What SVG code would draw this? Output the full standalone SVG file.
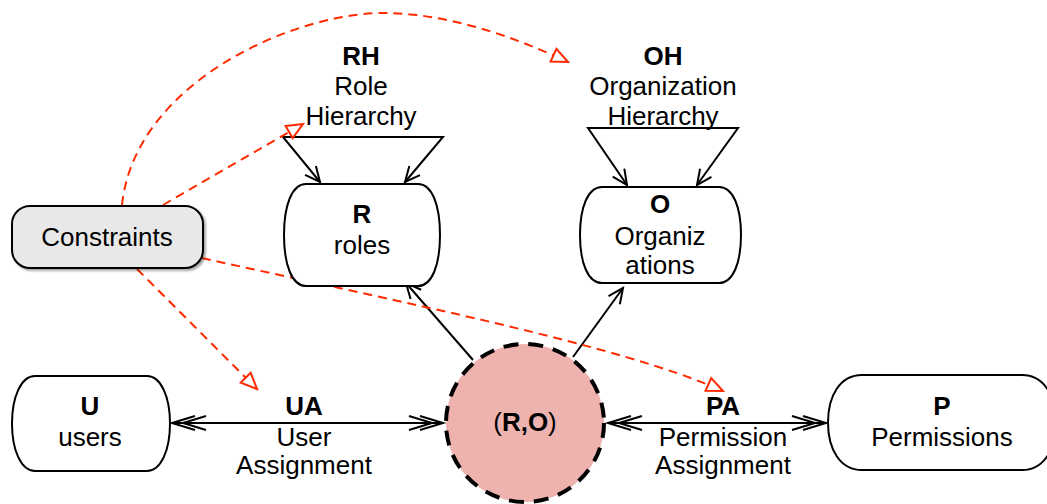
<svg xmlns="http://www.w3.org/2000/svg" width="1047" height="504" viewBox="0 0 1047 504">
  <defs>
    <style>
      text { font-family: "Liberation Sans", Arial, Helvetica, sans-serif; font-size: 26px; fill: #000; text-anchor: middle; }
      .b { font-weight: bold; }
      .node { fill: #fff; stroke: #000; stroke-width: 2; }
      .link { fill: none; stroke: #000; stroke-width: 2; }
      .constraint { fill: none; stroke: #ff2a00; stroke-width: 2; stroke-dasharray: 9 6; }
    </style>
    <!-- single open arrowhead -->
    <marker id="open" markerUnits="userSpaceOnUse" orient="auto-start-reverse" markerWidth="1" markerHeight="1" overflow="visible">
      <path d="M-15,-7 L0,0 L-15,7" fill="none" stroke="#000" stroke-width="2"/>
    </marker>
    <!-- double open arrowhead -->
    <marker id="dbl" markerUnits="userSpaceOnUse" orient="auto-start-reverse" markerWidth="1" markerHeight="1" overflow="visible">
      <path d="M-23,-7 L0,0 L-23,7 M-34,-7 L-11,0 L-34,7" fill="none" stroke="#000" stroke-width="2"/>
    </marker>
    <!-- hollow triangle for constraint links -->
    <marker id="tri" markerUnits="userSpaceOnUse" orient="auto" markerWidth="1" markerHeight="1" overflow="visible">
      <path d="M-16,-7 L0,0 L-16,7 Z" fill="#fff" stroke="#ff2a00" stroke-width="2"/>
    </marker>
    <filter id="shadow" x="-10%" y="-10%" width="130%" height="140%">
      <feDropShadow dx="2" dy="2" stdDeviation="1" flood-color="#000" flood-opacity="0.35"/>
    </filter>
  </defs>

  <!-- connectors -->
  <g id="connectors">
    <!-- role hierarchy self loop -->
    <path class="link" d="M320,182 L283,137 L443,137 L405,182" marker-start="url(#open)" marker-end="url(#open)"/>
    <!-- organization hierarchy self loop -->
    <path class="link" d="M627,185 L588,128 L738,128 L697,185" marker-start="url(#open)" marker-end="url(#open)"/>
    <!-- (R,O) to R and O -->
    <path class="link" d="M473,360 L406,283" marker-end="url(#open)"/>
    <path class="link" d="M573,357 L623,288" marker-end="url(#open)"/>
    <!-- UA and PA -->
    <path class="link" d="M172,423 L443,423" marker-start="url(#dbl)" marker-end="url(#dbl)"/>
    <path class="link" d="M608,423 L826,423" marker-start="url(#dbl)" marker-end="url(#dbl)"/>
    <!-- constraints -->
    <path class="constraint" d="M122,205 C135,80 300,10 390,13 C450,15 510,35 568,62" marker-end="url(#tri)"/>
    <path class="constraint" d="M163,205 L303,124" marker-end="url(#tri)"/>
    <path class="constraint" d="M137,269 L257,389" marker-end="url(#tri)"/>
    <path class="constraint" d="M202,258 C400,302 620,345 723,391" marker-end="url(#tri)"/>
  </g>

  <!-- edge labels -->
  <g id="label-RH">
    <text class="b" x="361" y="65">RH</text>
    <text x="361" y="95">Role</text>
    <text x="361" y="125">Hierarchy</text>
  </g>
  <g id="label-OH">
    <text class="b" x="663" y="65">OH</text>
    <text x="663" y="95">Organization</text>
    <text x="663" y="125">Hierarchy</text>
  </g>
  <g id="label-UA">
    <text class="b" x="304" y="415">UA</text>
    <text x="304" y="446">User</text>
    <text x="304" y="474">Assignment</text>
  </g>
  <g id="label-PA">
    <text class="b" x="723" y="415">PA</text>
    <text x="723" y="446">Permission</text>
    <text x="723" y="474">Assignment</text>
  </g>

  <!-- nodes -->
  <g id="constraints">
    <rect x="12" y="206" width="191" height="62" rx="18" fill="#e8e8e8" stroke="#000" stroke-width="2" filter="url(#shadow)"/>
    <text x="107" y="246">Constraints</text>
  </g>
  <g id="roles">
    <path class="node" d="M306,184 H418 C432,184 440,205 440,235 C440,265 432,286 418,286 H306 C292,286 284,265 284,235 C284,205 292,184 306,184 Z"/>
    <text class="b" x="362" y="223">R</text>
    <text x="362" y="254">roles</text>
  </g>
  <g id="organizations">
    <path class="node" d="M602,187 H719 C733,187 741,207 741,235 C741,263 733,283 719,283 H602 C588,283 580,263 580,235 C580,207 588,187 602,187 Z"/>
    <text class="b" x="660" y="213">O</text>
    <text x="660" y="245">Organiz</text>
    <text x="660" y="274">ations</text>
  </g>
  <g id="users">
    <path class="node" d="M35,376 H147 C161,376 170,397 170,423.5 C170,450 161,471 147,471 H35 C21,471 12,450 12,423.5 C12,397 21,376 35,376 Z"/>
    <text class="b" x="90" y="415">U</text>
    <text x="90" y="446">users</text>
  </g>
  <g id="permissions">
    <path class="node" d="M862,375 H1022 C1044,375 1056,396 1056,422.5 C1056,449 1044,470 1022,470 H862 C840,470 828,449 828,422.5 C828,396 840,375 862,375 Z"/>
    <text class="b" x="942" y="415">P</text>
    <text x="942" y="446">Permissions</text>
  </g>
  <g id="role-org">
    <circle cx="525" cy="423" r="79" fill="#eeb3af" stroke="#000" stroke-width="4" stroke-dasharray="15 10"/>
    <text x="525" y="431">(<tspan class="b">R,O</tspan>)</text>
  </g>
</svg>
